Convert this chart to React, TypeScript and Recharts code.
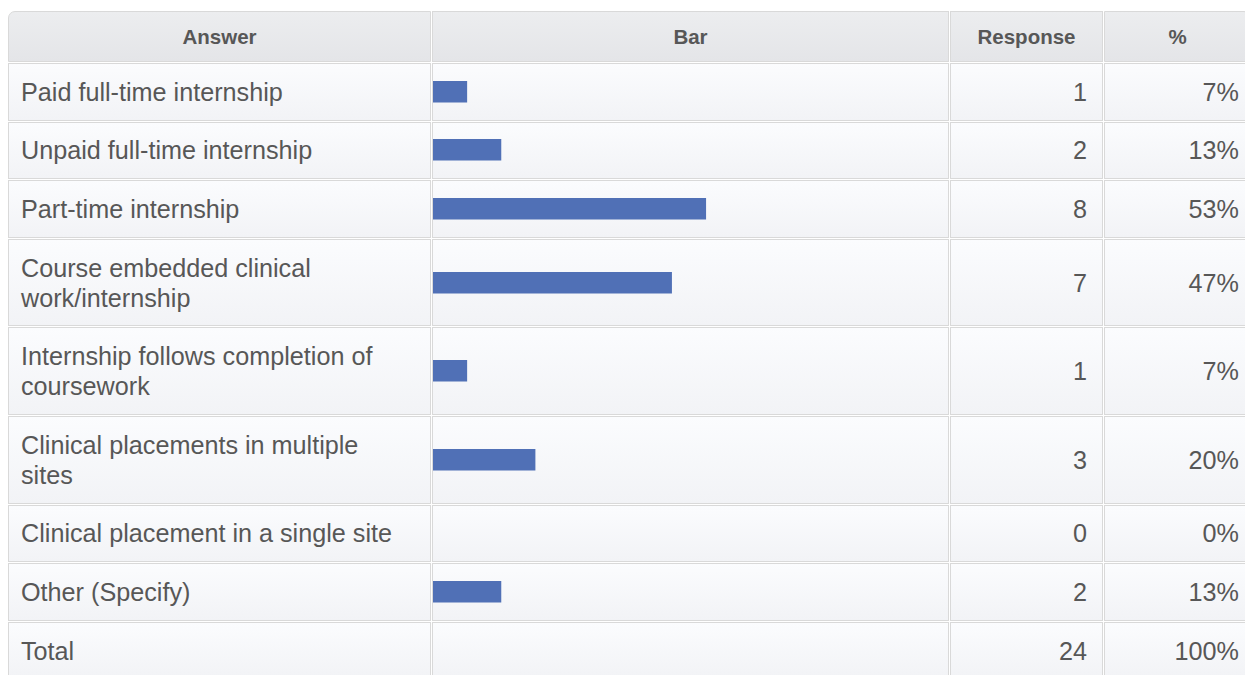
import React from "react";
import { BarChart, Bar, XAxis, YAxis } from "recharts";

const answers = [
  "Paid full-time internship",
  "Unpaid full-time internship",
  "Part-time internship",
  "Course embedded clinical work/internship",
  "Internship follows completion of coursework",
  "Clinical placements in multiple sites",
  "Clinical placement in a single site",
  "Other (Specify)",
];
const responses = [1, 2, 8, 7, 1, 3, 0, 2];
const percents = ["7%", "13%", "53%", "47%", "7%", "20%", "0%", "13%"];
const totalResponses = 24;
const totalPercent = "100%";
const respondents = 15;

const BAR_COLOR = "#5070b6";
const TEXT = "#575757";
const BORDER = "#d9d9d9";
const FONT = '"Liberation Sans", Arial, Helvetica, sans-serif';

const headCell: React.CSSProperties = {
  height: 49,
  padding: 0,
  border: `1px solid ${BORDER}`,
  background: "linear-gradient(#ecedef, #e4e5e8)",
  color: TEXT,
  fontWeight: "bold",
  fontSize: 20.5,
  textAlign: "center",
  verticalAlign: "middle",
};

const bodyCell: React.CSSProperties = {
  padding: "12.8px 24px 12.8px 12px",
  border: `1px solid ${BORDER}`,
  background: "linear-gradient(#fbfcfe, #f2f3f6)",
  color: TEXT,
  fontSize: 25.2,
  lineHeight: "30px",
  verticalAlign: "middle",
};

function RowBar({ value }: { value: number }) {
  return (
    <BarChart
      width={515}
      height={24}
      layout="vertical"
      data={[{ name: "v", value }]}
      margin={{ top: 0, right: 3, bottom: 0, left: 0 }}
      style={{ display: "block" }}
    >
      <XAxis type="number" domain={[0, respondents]} hide />
      <YAxis type="category" dataKey="name" hide />
      <Bar dataKey="value" fill={BAR_COLOR} barSize={24} isAnimationActive={false} />
    </BarChart>
  );
}

export default function App() {
  return (
    <div style={{ margin: "2px 0 0 -1px", fontFamily: FONT }}>
      <table
        style={{
          width: 1245,
          borderCollapse: "separate",
          borderSpacing: 1,
          tableLayout: "fixed",
          background: "#fff",
        }}
      >
        <colgroup>
          <col style={{ width: 423 }} />
          <col style={{ width: 517 }} />
          <col style={{ width: 153 }} />
          <col style={{ width: 147 }} />
        </colgroup>
        <thead>
          <tr>
            <th style={{ ...headCell, borderTopLeftRadius: 7 }}>Answer</th>
            <th style={headCell}>Bar</th>
            <th style={headCell}>Response</th>
            <th style={{ ...headCell, borderTopRightRadius: 7 }}>%</th>
          </tr>
        </thead>
        <tbody>
          {answers.map((a, i) => (
            <tr key={a}>
              <td style={bodyCell}>{a}</td>
              <td style={{ ...bodyCell, padding: 0 }}>
                <RowBar value={responses[i]} />
              </td>
              <td style={{ ...bodyCell, padding: "0 15px 0 0", textAlign: "right" }}>
                {responses[i]}
              </td>
              <td style={{ ...bodyCell, padding: "0 11px 0 0", textAlign: "right" }}>
                {percents[i]}
              </td>
            </tr>
          ))}
          <tr>
            <td style={bodyCell}>Total</td>
            <td style={{ ...bodyCell, padding: 0 }}></td>
            <td style={{ ...bodyCell, padding: "0 15px 0 0", textAlign: "right" }}>
              {totalResponses}
            </td>
            <td style={{ ...bodyCell, padding: "0 11px 0 0", textAlign: "right" }}>
              {totalPercent}
            </td>
          </tr>
        </tbody>
      </table>
    </div>
  );
}
